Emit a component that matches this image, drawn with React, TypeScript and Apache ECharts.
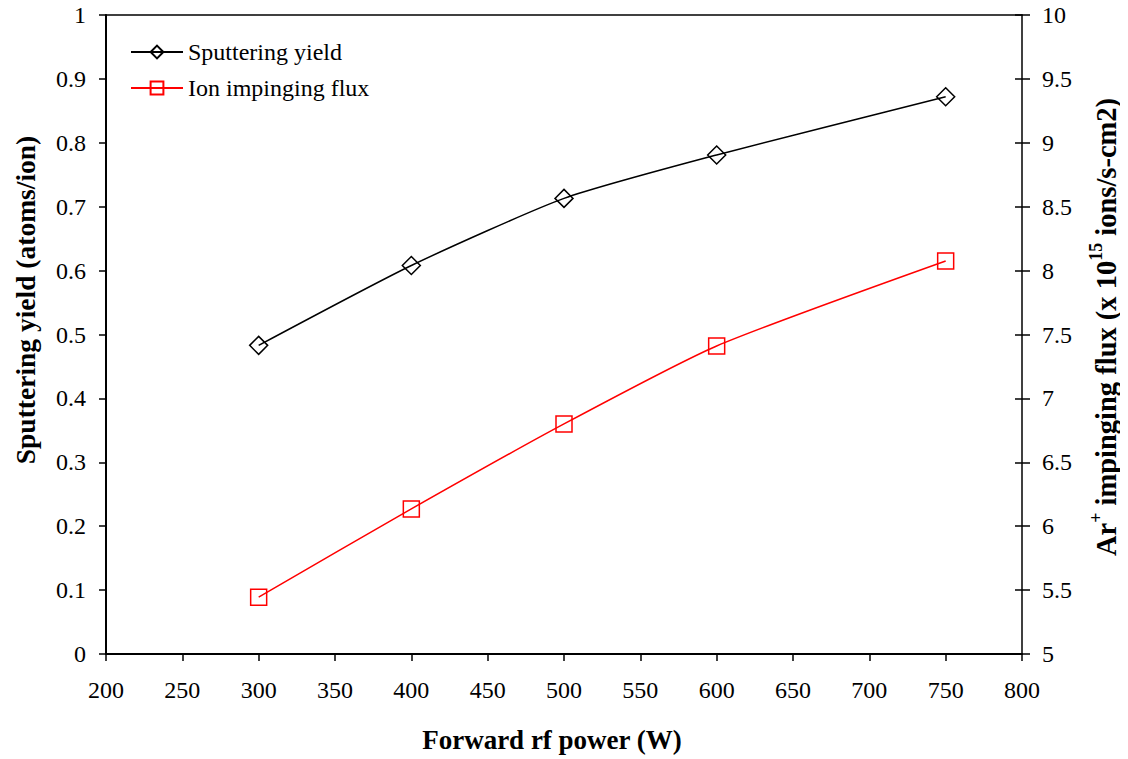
import React, { useEffect, useRef } from "react";
import * as echarts from "echarts";

// Forward rf power (W)
const power = [300, 400, 500, 600, 750];
// Sputtering yield (atoms/ion), left axis
const sputteringYield = [0.483, 0.608, 0.713, 0.781, 0.872];
// Ar+ impinging flux (x 10^15 ions/s-cm2), right axis
const ionFlux = [5.445, 6.135, 6.8, 7.41, 8.075];

const FONT = "Liberation Serif";

export default function App() {
  const ref = useRef<HTMLDivElement>(null);

  useEffect(() => {
    if (!ref.current) return;
    const chart = echarts.init(ref.current, null, { renderer: "svg" });
    const tickLabel = { fontFamily: FONT, fontSize: 24, color: "#000" };
    const fmt = (v: number) => String(Math.round(v * 10) / 10);
    chart.setOption({
      animation: false,
      backgroundColor: "#fff",
      textStyle: { fontFamily: FONT, color: "#000" },
      grid: { left: 106, right: 106, top: 15, bottom: 105 },
      legend: {
        left: 125,
        top: 35,
        orient: "vertical",
        itemGap: 12,
        itemWidth: 52,
        itemHeight: 16,
        textStyle: { fontFamily: FONT, fontSize: 24, color: "#000" },
        data: ["Sputtering yield", "Ion impinging flux"],
      },
      xAxis: [
        {
          type: "value",
          min: 200,
          max: 800,
          interval: 50,
          axisLine: { lineStyle: { color: "#000", width: 2 } },
          axisTick: { length: 7, lineStyle: { color: "#000", width: 1.5 } },
          axisLabel: { ...tickLabel, margin: 24 },
          splitLine: { show: false },
        },
        {
          type: "value",
          position: "top",
          min: 200,
          max: 800,
          axisLine: { show: true, lineStyle: { color: "#000", width: 1.5 } },
          axisTick: { show: false },
          axisLabel: { show: false },
          splitLine: { show: false },
        },
      ],
      yAxis: [
        {
          type: "value",
          position: "left",
          min: 0,
          max: 1,
          interval: 0.1,
          axisLine: { show: true, lineStyle: { color: "#000", width: 2 } },
          axisTick: { show: true, length: 7, lineStyle: { color: "#000", width: 1.5 } },
          axisLabel: { ...tickLabel, margin: 20, formatter: fmt },
          splitLine: { show: false },
        },
        {
          type: "value",
          position: "right",
          min: 5,
          max: 10,
          interval: 0.5,
          axisLine: { show: true, lineStyle: { color: "#000", width: 1.5 } },
          axisTick: { show: true, length: 8, lineStyle: { color: "#000", width: 1.5 } },
          axisLabel: { ...tickLabel, margin: 20, formatter: fmt },
          splitLine: { show: false },
        },
        {
          // inner half of the right axis' crossing ticks
          type: "value",
          position: "right",
          min: 5,
          max: 10,
          interval: 0.5,
          axisLine: { show: false },
          axisTick: { show: true, inside: true, length: 7, lineStyle: { color: "#000", width: 1.5 } },
          axisLabel: { show: false },
          splitLine: { show: false },
        },
      ],
      series: [
        {
          name: "Sputtering yield",
          type: "line",
          xAxisIndex: 0,
          yAxisIndex: 0,
          smooth: 0.2,
          symbol: "diamond",
          symbolSize: 18,
          data: power.map((p, i) => [p, sputteringYield[i]]),
          lineStyle: { color: "#000", width: 1.5 },
          itemStyle: { color: "rgba(255,255,255,0)", borderColor: "#000", borderWidth: 1.5 },
        },
        {
          name: "Ion impinging flux",
          type: "line",
          xAxisIndex: 0,
          yAxisIndex: 1,
          smooth: 0.2,
          symbol: "rect",
          symbolSize: 16,
          data: power.map((p, i) => [p, ionFlux[i]]),
          lineStyle: { color: "#ff0000", width: 1.5 },
          itemStyle: { color: "rgba(255,255,255,0)", borderColor: "#ff0000", borderWidth: 1.5 },
        },
      ],
      graphic: [
        {
          type: "text",
          x: 552,
          y: 740,
          style: {
            text: "Forward rf power (W)",
            fontFamily: FONT,
            fontSize: 27,
            fontWeight: "bold",
            fill: "#000",
            align: "center",
            verticalAlign: "middle",
          },
        },
        {
          type: "text",
          x: 25,
          y: 300,
          rotation: Math.PI / 2,
          style: {
            text: "Sputtering yield (atoms/ion)",
            fontFamily: FONT,
            fontSize: 27.5,
            fontWeight: "bold",
            fill: "#000",
            align: "center",
            verticalAlign: "middle",
          },
        },
        {
          type: "text",
          x: 1104,
          y: 327,
          rotation: Math.PI / 2,
          style: {
            text: "{b|Ar}{s|+}{b| impinging flux (x 10}{s|15}{b| ions/s-cm2)}",
            fontFamily: FONT,
            fontSize: 28.5,
            fontWeight: "bold",
            fill: "#000",
            align: "center",
            verticalAlign: "middle",
            rich: {
              b: { fontFamily: FONT, fontSize: 28.5, fontWeight: "bold", lineHeight: 34, verticalAlign: "bottom" },
              s: { fontFamily: FONT, fontSize: 18, fontWeight: "bold", lineHeight: 34, verticalAlign: "top" },
            },
          },
        },
      ],
    });
    return () => chart.dispose();
  }, []);

  return <div ref={ref} style={{ width: 1128, height: 759, marginLeft: -8, marginTop: -8 }} />;
}
